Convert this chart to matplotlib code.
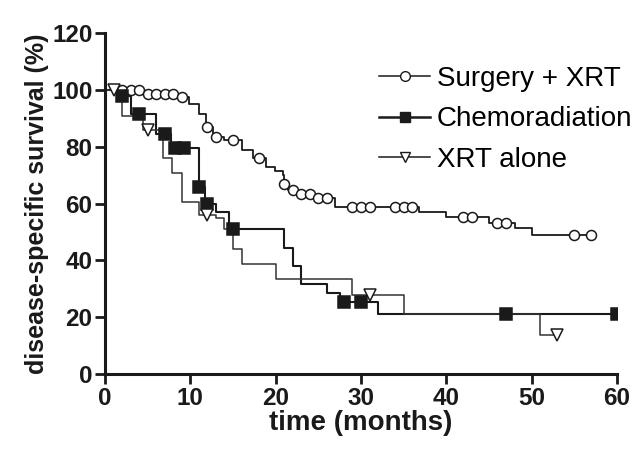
import numpy as np
import matplotlib
matplotlib.use("Agg")
import matplotlib.pyplot as plt
from matplotlib.lines import Line2D

plt.rcParams['font.family'] = ['Liberation Sans', 'DejaVu Sans']

# ---- data (Kaplan-Meier step curves) ----
surg_t = [0, 4.5, 8.7, 9.9, 11.0, 11.8, 12.6, 14.0, 16.0, 17.3, 18.9, 19.9, 20.9, 21.0, 21.5, 22.5, 24.5, 26.9, 36.8, 40.0, 45.0, 48.0, 50.0, 57]
surg_s = [100, 98.6, 97.4, 95.0, 91.5, 87.0, 83.6, 82.4, 79.0, 76.2, 73.0, 71.6, 70.0, 67.0, 64.8, 63.4, 61.9, 58.9, 56.9, 55.2, 53.3, 51.3, 49.0, 49.0]
surg_cens = [2, 3, 4, 5, 6, 7, 8, 9, 12, 13, 15, 18, 21, 22, 23, 24, 25, 26, 29, 30, 31, 34, 35, 36, 42, 43, 46, 47, 55, 57]

chemo_t = [0, 1.5, 3.0, 6.0, 7.7, 11.0, 11.7, 13.0, 14.5, 21.0, 22.0, 23.0, 26.0, 27.5, 32.0, 60]
chemo_s = [100, 98.0, 91.5, 84.5, 79.5, 65.7, 60.0, 57.0, 51.0, 44.5, 38.1, 31.7, 28.4, 25.2, 21.0, 21.0]
chemo_cens = [2, 4, 7, 8.2, 9.2, 11, 12, 15, 28, 30, 47, 60]

xrt_t = [0, 2.0, 4.5, 6.8, 7.9, 9.0, 11.0, 13.0, 14.0, 15.0, 16.0, 20.0, 29.0, 35.0, 51.0, 53]
xrt_s = [100, 91.0, 86.0, 76.0, 70.7, 60.7, 56.0, 54.8, 51.0, 44.0, 38.7, 33.3, 27.8, 21.0, 13.7, 13.7]
xrt_cens = [1, 5, 12, 31, 53]

labels = ["Surgery + XRT", "Chemoradiation", "XRT alone"]
x_ticks = [0, 10, 20, 30, 40, 50, 60]
y_ticks = [0, 20, 40, 60, 80, 100, 120]


def surv_at(t_arr, s_arr, t):
    idx = np.searchsorted(np.asarray(t_arr), t, side='right') - 1
    return np.asarray(s_arr)[max(idx, 0)]


fig = plt.figure(figsize=(6.38, 4.55), dpi=100)
ax = fig.add_axes([0.1646, 0.178, 0.8024, 0.749])

ink = '#1a1a1a'
series = [
    (surg_t, surg_s, surg_cens, 'o', 'white', 7.2, ink, 1.3),
    (chemo_t, chemo_s, chemo_cens, 's', ink, 8.0, ink, 1.5),
    (xrt_t, xrt_s, xrt_cens, 'v', 'white', 8.0, '#333333', 1.1),
]

for (t, s, cens, mk, fc, ms, col, lw) in series:
    ax.step(t, s, where='post', color=col, lw=lw, zorder=2)
    cy = [surv_at(t, s, c) for c in cens]
    ax.plot(cens, cy, ls='none', marker=mk, ms=ms, mfc=fc, mec=ink, mew=1.1, zorder=3)

ax.set_xlim(0, 60)
ax.set_ylim(0, 120)
ax.set_xticks(x_ticks)
ax.set_yticks(y_ticks)
for sp in ['top', 'right']:
    ax.spines[sp].set_visible(False)
for sp in ['left', 'bottom']:
    ax.spines[sp].set_linewidth(2.2)
    ax.spines[sp].set_color(ink)
ax.tick_params(axis='both', direction='out', length=7, width=2.0, color=ink,
               labelsize=17.5, labelcolor=ink, pad=2)
for lab in ax.get_xticklabels() + ax.get_yticklabels():
    lab.set_fontweight('bold')

ax.set_xlabel("time (months)", fontsize=20, fontweight='bold', color=ink, labelpad=0)
ax.set_ylabel("disease-specific survival (%)", fontsize=18, fontweight='bold', color=ink, labelpad=2)

handles = [
    Line2D([], [], color=ink, lw=1.1, marker='o', ms=7, mfc='white', mec=ink),
    Line2D([], [], color=ink, lw=1.8, marker='s', ms=7, mfc=ink, mec=ink),
    Line2D([], [], color=ink, lw=1.1, marker='v', ms=7, mfc='white', mec=ink),
]
ax.legend(handles, labels, loc='upper left', bbox_to_anchor=(379 / 638, 1 - 66 / 455),
          bbox_transform=fig.transFigure, frameon=False, borderpad=0, borderaxespad=0,
          fontsize=20, handlelength=1.85, handletextpad=0.22, labelspacing=0.52)

fig.savefig("out.png", dpi=100)
